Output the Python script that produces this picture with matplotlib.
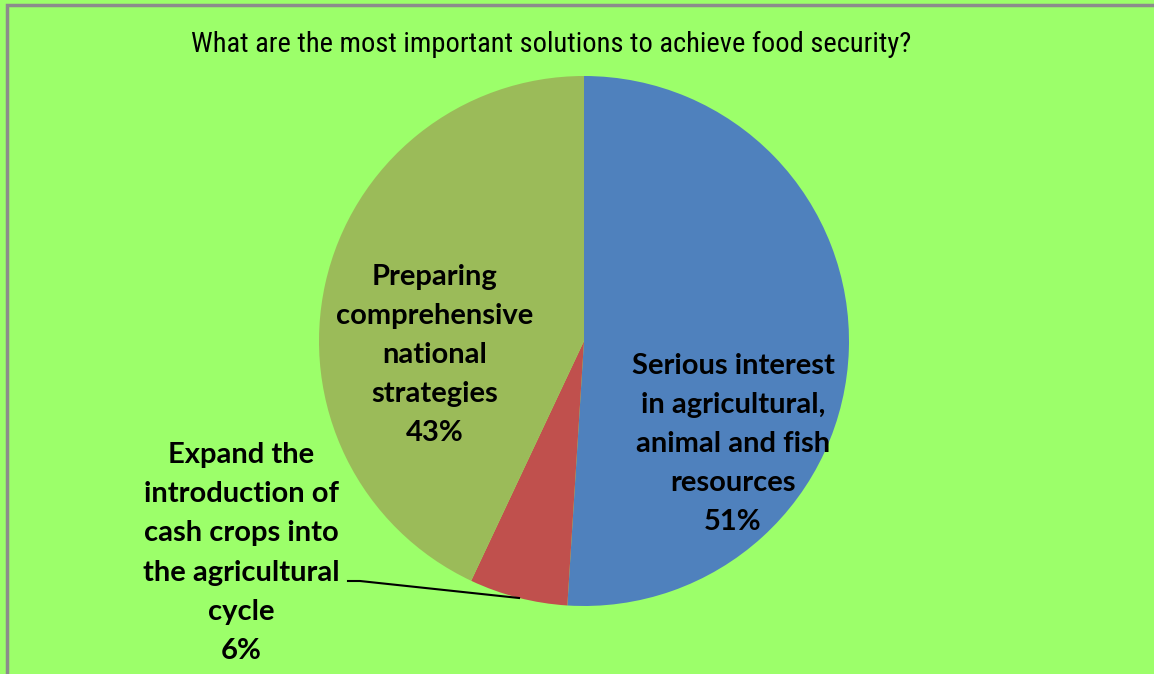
import matplotlib.pyplot as plt
from matplotlib.patches import Rectangle

labels = [
    "Serious interest\nin agricultural,\nanimal and fish\nresources",
    "Expand the\nintroduction of\ncash crops into\nthe agricultural\ncycle",
    "Preparing\ncomprehensive\nnational\nstrategies",
]
shares = [51, 6, 43]
colors = ["#4F81BD", "#C0504D", "#9BBB59"]
title = "What are the most important solutions to achieve food security?"

W, H = 1154, 674
fig = plt.figure(figsize=(W / 100, H / 100), dpi=100)
fig.patch.set_facecolor("#9CFF6A")
fig.patches.append(Rectangle((7 / W, -0.1), 1.2, (H - 5) / H + 0.1, transform=fig.transFigure,
                             fill=False, edgecolor="#8C8C8C", linewidth=2.5))

ax = fig.add_axes([0, 0, 1, 1])
cx, cy, r = 584, H - 341, 265
ax.pie(shares, colors=colors, startangle=90, counterclock=False, radius=r,
       center=(cx, cy), wedgeprops=dict(linewidth=0), frame=True)
ax.set_xlim(0, W)
ax.set_ylim(0, H)
ax.set_axis_off()

font = dict(family=["Lato", "DejaVu Sans"], fontsize=21, fontweight="bold",
            color="black", ha="center", va="center", linespacing=1.63)
# label offsets from pie centre, in px
offs = [(149, -103), (-343, -212), (-149, -14)]
for lab, v, (dx, dy) in zip(labels, shares, offs):
    ax.text(cx + dx, cy + dy, f"{lab}\n{v}%", **font)

# leader line for the small slice
ax.plot([348, 360, 519], [H - 581, H - 581, H - 598], color="black", lw=1.5)

fig.text(551 / W, 1 - 44 / H, title, family=["Roboto Condensed", "DejaVu Sans"],
         fontstretch="condensed", fontsize=20.5, ha="center", va="center", color="black")

fig.savefig("out.png", dpi=100, facecolor=fig.get_facecolor())
